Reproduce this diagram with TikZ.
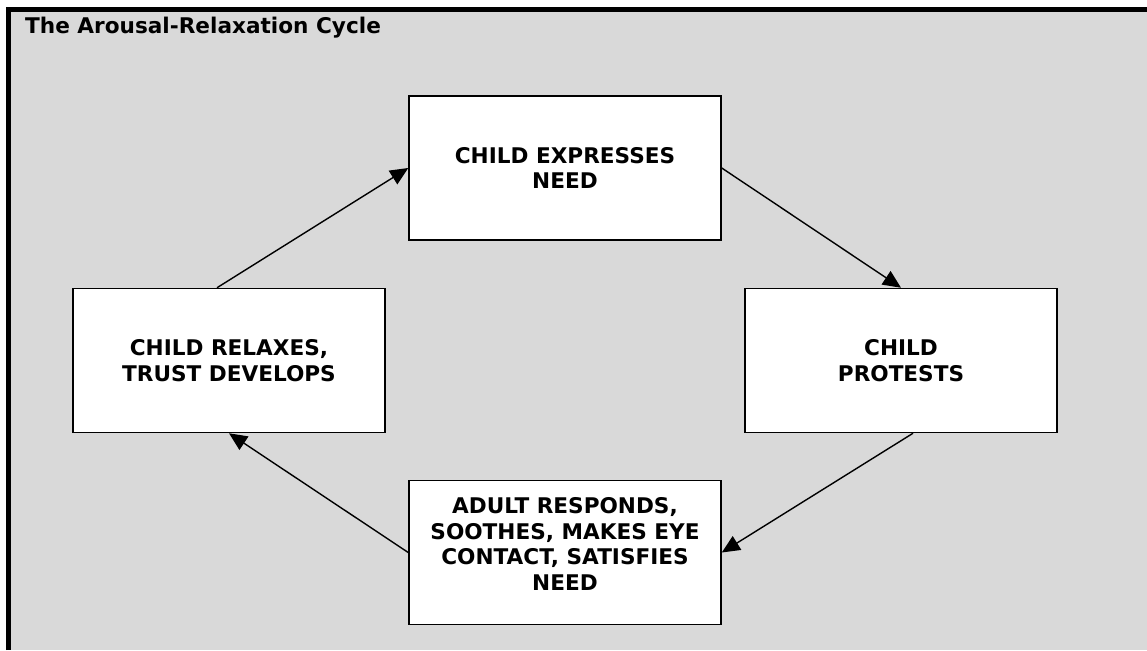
\documentclass[tikz,border=0pt]{standalone}
\usepackage{fontspec}
\setmainfont{DejaVu Sans}
\usetikzlibrary{arrows.meta}
\definecolor{panelgray}{RGB}{217,217,217}
\begin{document}
\begin{tikzpicture}[x=1pt, y=-1pt, line join=miter, >={Triangle[length=18pt,width=16pt]},
	boxfont/.style={font=\bfseries\fontsize{21.6}{25.5}\selectfont},
	stage/.style={boxfont, draw, fill=white, line width=1.5pt, minimum width=312pt, minimum height=144pt, inner sep=0pt, align=center},
	flow/.style={->, line width=1.4pt}]
	\useasboundingbox (0,0) rectangle (1147,650);
	\fill[panelgray] (8.5,9.5) rectangle (1147,650);
	\draw[line width=5pt] (8.5,650)--(8.5,9.5)--(1147,9.5);
	\node[boxfont, anchor=base west, inner sep=0pt] (title) at (25,34) {The Arousal-Relaxation Cycle};
	\node[stage] (express) at (565,168) {CHILD EXPRESSES\\NEED};
	\node[stage] (protest) at (901,360.5) {CHILD\\PROTESTS};
	\node[stage] (respond) at (565,552.5) {};
	\node[boxfont, align=center, inner sep=0pt] (respondtext) at (565,544) {ADULT RESPONDS,\\SOOTHES, MAKES EYE\\CONTACT, SATISFIES\\NEED};
	\node[stage] (relax) at (229,360.5) {CHILD RELAXES,\\TRUST DEVELOPS};
	\draw[flow] (express.east)--(protest.north);
	\draw[flow] ([xshift=12pt]protest.south)--(respond.east);
	\draw[flow] (respond.west)--(relax.south);
	\draw[flow] ([xshift=-12pt]relax.north)--(express.west);
\end{tikzpicture}
\end{document}
